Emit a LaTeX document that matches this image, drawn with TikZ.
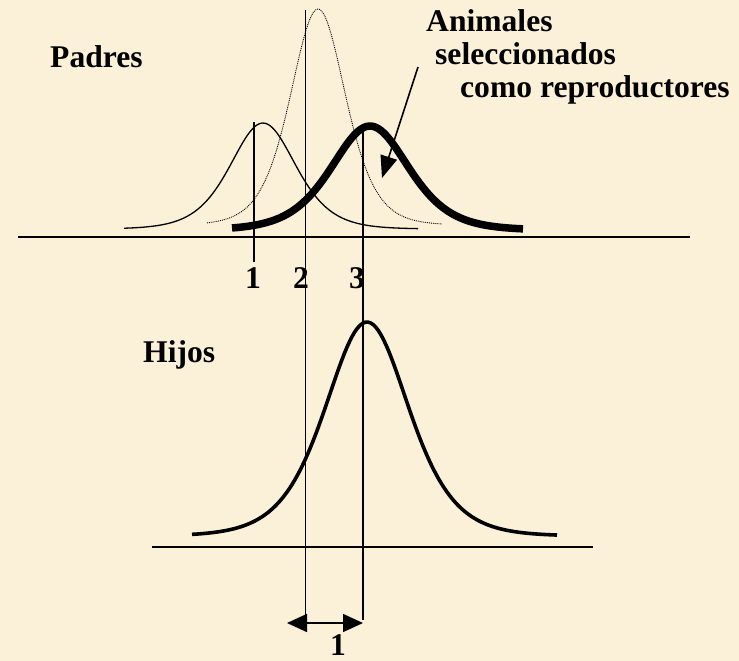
\documentclass[tikz,border=0pt]{standalone}
\usepackage{fontspec}
\setmainfont{Liberation Serif}
\usetikzlibrary{arrows.meta}
\definecolor{bgcol}{RGB}{251,241,216}
\begin{document}
\begin{tikzpicture}[x=1pt,y=-1pt,
  lbl/.style={inner sep=0pt,font=\fontsize{31.6}{37}\selectfont\bfseries,text=black},
  axisline/.style={line width=1.5pt},
  vline/.style={line width=1.5pt},
  thincurve/.style={line width=1.3pt},
  dotcurve/.style={line width=0.9pt,densely dotted},
  thickcurve/.style={line width=7.5pt},
  sonscurve/.style={line width=3.6pt},
  bigarrow/.style={line width=1.6pt,-{Triangle[length=22pt,width=17pt]}},
  dblarrow/.style={line width=1.5pt,{Triangle[length=20pt,width=18pt]}-{Triangle[length=20pt,width=18pt]}}]
\fill[bgcol] (0,0) rectangle (739,661);
\useasboundingbox (0,0) rectangle (739,661);

% axes
\coordinate (ax1l) at (18,237);
\coordinate (ax1r) at (690,237);
\draw[axisline] (ax1l) -- (ax1r);
\coordinate (ax2l) at (152,547);
\coordinate (ax2r) at (593,547);
\draw[axisline] (ax2l) -- (ax2r);

% parent curves
\draw[thincurve] plot[domain=124:418,samples=120] (\x,{229-106*4/(exp((\x-263)/44)+exp(-(\x-263)/44))^2});
\draw[dotcurve] plot[domain=207:442,samples=120] (\x,{225-216*4/(exp((\x-318)/37)+exp(-(\x-318)/37))^2});
\draw[thickcurve] plot[domain=232:523,samples=120] (\x,{230-104*4/(exp((\x-370)/52)+exp(-(\x-370)/52))^2});

% offspring curve
\draw[sonscurve] plot[domain=192:557,samples=140] (\x,{536-214*4/(exp((\x-367)/56)+exp(-(\x-367)/56))^2});

% vertical lines
\coordinate (v1t) at (254,122);
\coordinate (v1b) at (254,262);
\draw[vline] (v1t) -- (v1b);
\coordinate (v2t) at (305.5,10);
\coordinate (v2b) at (305.5,623);
\draw[vline] (v2t) -- (v2b);
\coordinate (v3t) at (363,124);
\coordinate (v3b) at (363,620);
\draw[vline] (v3t) -- (v3b);

% bottom double arrow
\coordinate (al) at (287,623);
\coordinate (ar) at (363,623);
\draw[dblarrow] (al) -- (ar);

% labels
\node[lbl,anchor=base west] (padres) at (50,68) {Padres};
\node[lbl,anchor=base west] (anim) at (426,32) {Animales};
\node[lbl,anchor=base west] (sel) at (435,65) {seleccionados};
\node[lbl,anchor=base west] (como) at (460,97) {como reproductores};
\node[lbl,anchor=base west] (hijos) at (143,362) {Hijos};
\node[lbl,anchor=base] (n1) at (253,288) {1};
\node[lbl,anchor=base] (n2) at (301,288) {2};
\node[lbl,anchor=base] (n3) at (357,288) {3};
\node[lbl,anchor=base] (nd) at (338,655) {1};

% arrow to selected animals curve
\coordinate (arrs) at (418,67);
\coordinate (arre) at (382,178);
\draw[bigarrow] (arrs) -- (arre);
\end{tikzpicture}
\end{document}
